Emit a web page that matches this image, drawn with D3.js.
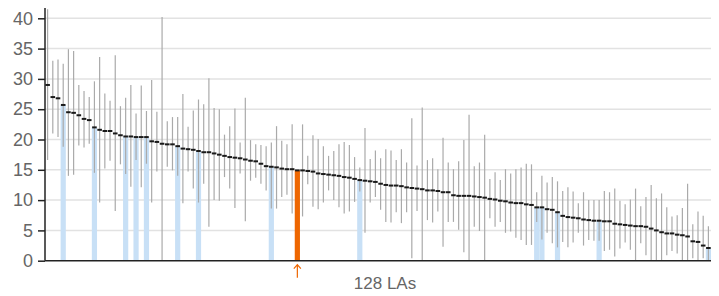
<!DOCTYPE html>
<html lang="en">
<head>
    <meta charset="UTF-8">
    <title>128 LAs</title>
    <script src="https://d3js.org/d3.v7.min.js"></script>
    <style>
        * {
            margin: 0;
            padding: 0;
            box-sizing: border-box;
        }

        body {
            background-color: #fff;
            font-family: "Liberation Sans", Arial, sans-serif;
        }

        .grid line {
            stroke: #e2e2e2;
            stroke-width: 1.5;
        }

        .y-axis text {
            fill: #666;
            font-size: 18px;
        }

        .x-label {
            fill: #666;
            font-size: 17px;
        }
    </style>
</head>
<body>
    <div id="chart"></div>

    <script>
        // Valores por LA (ordenados), com intervalo de confiança
        const values = [
            29.0, 27.0, 26.8, 25.7, 24.5, 24.4, 24.0, 23.4, 23.2, 22.0, 21.6, 21.4, 21.4, 21.0, 20.7, 20.5,
            20.5, 20.4, 20.4, 20.4, 19.7, 19.6, 19.3, 19.2, 19.2, 18.9, 18.5, 18.4, 18.3, 18.1, 17.9, 17.9,
            17.7, 17.5, 17.3, 17.1, 17.0, 16.9, 16.7, 16.5, 16.4, 16.0, 15.6, 15.5, 15.4, 15.2, 15.1, 15.1,
            14.9, 14.9, 14.8, 14.7, 14.4, 14.3, 14.2, 14.1, 14.0, 13.8, 13.7, 13.5, 13.3, 13.2, 13.1, 13.0,
            12.7, 12.5, 12.4, 12.4, 12.3, 12.1, 12.0, 11.9, 11.8, 11.6, 11.6, 11.5, 11.3, 11.3, 10.8, 10.7,
            10.7, 10.7, 10.6, 10.5, 10.4, 10.2, 10.1, 9.9, 9.8, 9.6, 9.5, 9.5, 9.3, 9.2, 8.8, 8.8,
            8.5, 8.4, 8.0, 7.4, 7.2, 7.1, 7.0, 6.8, 6.7, 6.6, 6.6, 6.5, 6.5, 6.1, 6.0, 5.9,
            5.8, 5.7, 5.7, 5.6, 5.3, 5.0, 4.7, 4.5, 4.5, 4.3, 4.2, 4.0, 3.2, 3.1, 2.5, 2.1
        ];

        const lower = [
            16.6, 21.0, 20.4, 18.8, 14.0, 14.2, 19.0, 18.7, 19.3, 14.5, 9.6, 15.2, 16.5, 8.2, 15.9, 14.3,
            12.2, 16.6, 12.1, 16.0, 9.6, 14.7, 0, 15.5, 14.9, 14.0, 9.5, 14.7, 11.9, 9.6, 12.7, 5.6,
            10.0, 9.9, 13.8, 11.9, 8.7, 14.4, 6.5, 13.2, 13.7, 12.7, 11.6, 8.6, 8.6, 10.5, 10.9, 7.8,
            10.5, 7.3, 12.6, 8.9, 8.5, 9.6, 11.6, 10.0, 8.8, 7.8, 8.1, 9.7, 11.4, 4.6, 9.6, 10.5,
            8.4, 6.4, 6.3, 8.0, 6.2, 8.0, 0.4, 8.2, 0, 6.7, 6.3, 8.1, 2.3, 6.4, 6.4, 5.1,
            1.4, 0, 5.6, 4.9, 0, 7.0, 5.6, 6.4, 4.6, 4.8, 3.8, 3.4, 2.6, 2.6, 6.4, 3.5,
            4.6, 2.9, 2.2, 3.1, 2.2, 3.0, 4.6, 2.5, 3.4, 3.3, 3.3, 1.6, 1.8, 0.7, 2.0, 3.0,
            1.8, 0, 2.9, 0.9, 0, 0, 0, 0.9, 1.6, 1.2, 0, 0, 0.4, 0, 0.4, 0
        ];

        const upper = [
            41.5, 33.0, 33.2, 32.5, 34.9, 34.6, 29.0, 28.0, 27.0, 29.6, 33.6, 27.6, 26.4, 33.9, 25.5, 26.9,
            29.0, 24.3, 28.9, 24.7, 29.8, 24.6, 40.2, 23.0, 23.7, 23.7, 27.5, 22.1, 24.8, 26.6, 25.8, 30.1,
            25.2, 25.0, 20.8, 22.2, 25.1, 19.5, 26.9, 19.9, 19.2, 19.1, 18.9, 19.5, 22.2, 19.8, 19.2, 22.5,
            19.1, 22.5, 17.3, 20.7, 20.1, 18.9, 17.3, 18.1, 19.2, 19.6, 19.1, 17.1, 15.4, 21.9, 16.8, 18.2,
            16.9, 18.4, 18.2, 16.6, 18.4, 16.2, 23.5, 15.7, 25.3, 16.6, 16.9, 15.1, 20.3, 16.2, 15.1, 16.4,
            19.9, 24.1, 15.6, 16.2, 20.8, 13.5, 14.6, 13.3, 15.1, 14.4, 15.1, 15.4, 16.0, 15.9, 11.3, 14.0,
            12.9, 13.8, 13.1, 11.5, 12.1, 11.4, 9.5, 11.3, 10.0, 10.0, 10.0, 11.5, 11.3, 11.9, 9.9, 9.3,
            10.1, 11.9, 9.0, 10.5, 12.5, 10.3, 11.1, 8.8, 7.3, 7.5, 8.7, 12.7, 6.0, 8.1, 7.4, 5.7
        ];

        // LAs em destaque (azul) e a LA selecionada (laranja)
        const highlighted = [3, 9, 15, 17, 19, 25, 29, 43, 60, 94, 95, 98, 106, 127];
        const selected = 48;
        const yTicks = [0, 5, 10, 15, 20, 25, 30, 35, 40];
        const xLabel = values.length + " LAs";

        const width = 719, height = 296;
        const margin = { top: 8, right: 8, bottom: 35.3, left: 45 };

        const svg = d3.select("#chart").append("svg")
            .attr("width", width)
            .attr("height", height);

        const x = d3.scaleBand()
            .domain(d3.range(values.length))
            .range([margin.left, width - margin.right])
            .padding(0);

        const y = d3.scaleLinear()
            .domain([0, 41.7])
            .range([height - margin.bottom, margin.top]);

        // Linhas de grade
        svg.append("g")
            .attr("class", "grid")
            .selectAll("line")
            .data(yTicks.filter(t => t > 0))
            .join("line")
            .attr("x1", margin.left)
            .attr("x2", width - margin.right)
            .attr("y1", d => y(d))
            .attr("y2", d => y(d));

        // Barras azuis e laranja
        svg.append("g")
            .selectAll("rect")
            .data(highlighted.concat([selected]))
            .join("rect")
            .attr("x", d => x(d))
            .attr("width", x.bandwidth())
            .attr("y", d => y(values[d]))
            .attr("height", d => y(0) - y(values[d]))
            .attr("fill", d => d === selected ? "#ee6600" : "#c8e0f6");

        // Intervalos de confiança
        svg.append("g")
            .selectAll("line")
            .data(values)
            .join("line")
            .attr("x1", (d, i) => x(i) + x.bandwidth() / 2)
            .attr("x2", (d, i) => x(i) + x.bandwidth() / 2)
            .attr("y1", (d, i) => y(lower[i]))
            .attr("y2", (d, i) => y(upper[i]))
            .attr("stroke", (d, i) => i === selected ? "none" : "#aaa")
            .attr("stroke-width", 1.2);

        // Marcas de valor
        svg.append("g")
            .selectAll("line")
            .data(values)
            .join("line")
            .attr("x1", (d, i) => x(i) + 0.3)
            .attr("x2", (d, i) => x(i) + x.bandwidth() - 0.3)
            .attr("y1", d => y(d))
            .attr("y2", d => y(d))
            .attr("stroke", "#1a1a1a")
            .attr("stroke-width", 2);

        // Eixo Y
        const yAxis = svg.append("g")
            .attr("class", "y-axis")
            .attr("transform", `translate(${margin.left},0)`)
            .call(d3.axisLeft(y).tickValues(yTicks).tickSize(7).tickPadding(5));
        yAxis.select(".domain").attr("stroke", "#222").attr("stroke-width", 1.5).attr("d", `M0,${y(0)}V${margin.top}`);
        yAxis.selectAll(".tick line").attr("stroke", "#222").attr("stroke-width", 1.5);
        yAxis.selectAll("text").attr("fill", "#666");

        // Linha base
        svg.append("line")
            .attr("x1", margin.left)
            .attr("x2", width - margin.right)
            .attr("y1", y(0))
            .attr("y2", y(0))
            .attr("stroke", "#222")
            .attr("stroke-width", 1.5);

        // Seta da LA selecionada
        const ax = x(selected) + x.bandwidth() / 2;
        svg.append("path")
            .attr("d", `M${ax},${y(0) + 17}V${y(0) + 4}M${ax - 3.5},${y(0) + 8}L${ax},${y(0) + 4}L${ax + 3.5},${y(0) + 8}`)
            .attr("stroke", "#ee6600")
            .attr("stroke-width", 1.2)
            .attr("fill", "none");

        svg.append("text")
            .attr("class", "x-label")
            .attr("x", 385)
            .attr("y", 289)
            .attr("text-anchor", "middle")
            .text(xLabel);
    </script>
</body>
</html>
